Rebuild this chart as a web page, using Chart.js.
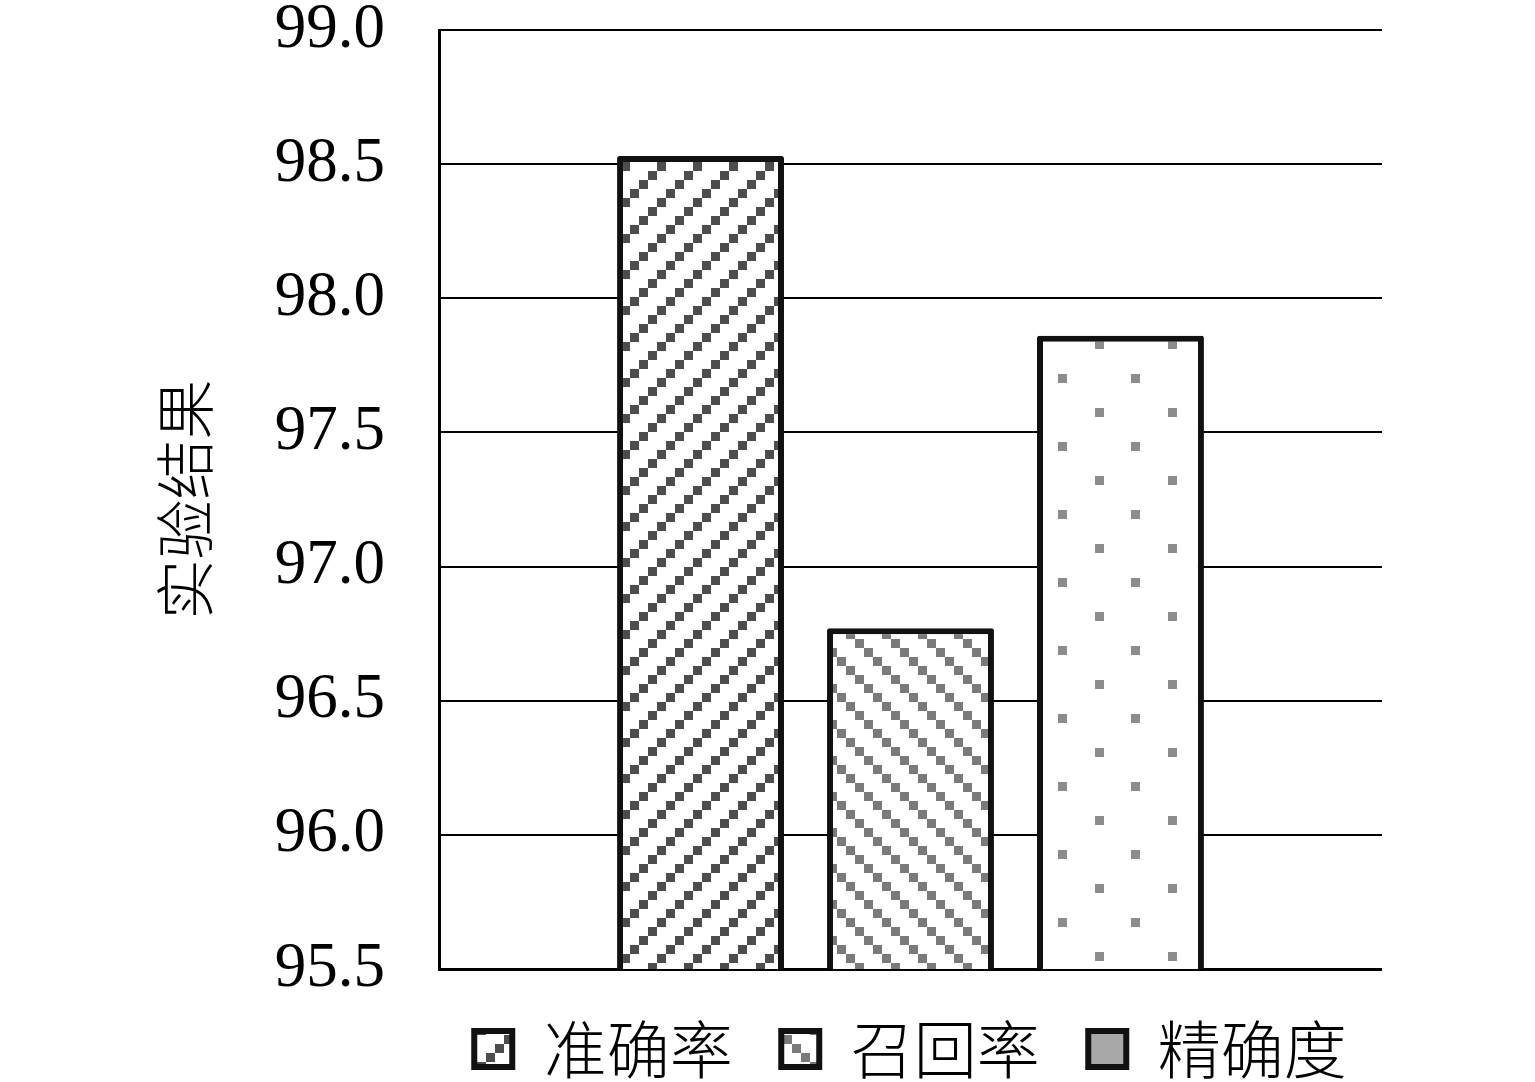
<!DOCTYPE html>
<html><head><meta charset="utf-8">
<script src="https://cdn.jsdelivr.net/npm/chart.js@4.4.0/dist/chart.umd.min.js"></script>
<style>html,body{margin:0;padding:0;background:#fff;}</style>
</head><body>
<canvas id="c" width="1535" height="1082" style="display:block;width:1535px;height:1082px"></canvas>
<script>
const categories = [''];
const seriesNames = ['准确率', '召回率', '精确度'];
const seriesValues = [98.53, 96.77, 97.86];
const yTickLabels = ['95.5', '96.0', '96.5', '97.0', '97.5', '98.0', '98.5', '99.0'];
const yMin = 95.5, yMax = 99.0, yStep = 0.5;
const yTitle = '实验结果';

const canvas = document.getElementById('c');
const ctx = canvas.getContext('2d');

function makePattern(w, h, color, squares) {
  const c = document.createElement('canvas');
  c.width = w; c.height = h;
  const x = c.getContext('2d');
  x.fillStyle = '#fff'; x.fillRect(0, 0, w, h);
  x.fillStyle = color;
  squares.forEach(([a, b, s]) => x.fillRect(a, b, s, s));
  return ctx.createPattern(c, 'repeat');
}
const pat1 = makePattern(36, 36, '#4d4d4d', [[27,0,9],[18,9,9],[9,18,9],[0,27,9]]);
const pat2 = makePattern(36, 36, '#7a7a7a', [[0,0,9],[9,9,9],[18,18,9],[27,27,9]]);
const pat3 = makePattern(73, 68, '#8c8c8c', [[0,0,9],[36,34,9]]);
const patterns = [pat1, pat2, pat3];
const legendSolid = [null, null, '#a8a8a8'];

const datasets = seriesNames.map((name, i) => ({
  label: name,
  data: [seriesValues[i]],
  backgroundColor: patterns[i],
  borderColor: '#111',
  borderWidth: 6,
  borderSkipped: false,
  borderRadius: 2,
  categoryPercentage: 0.668,
  barPercentage: 0.795
}));

// keep all legend items on one row, centred under the plot area
const oneRowLegend = {
  id: 'oneRowLegend',
  beforeLayout(chart) {
    const lg = chart.legend;
    if (!lg || lg._oneRow) return;
    lg._oneRow = true;
    const origFit = lg.fit;
    lg.fit = function () {
      const m = this.maxWidth;
      this.maxWidth = 5000;
      origFit.call(this);
      this.maxWidth = m;
      this.width = m;
    };
    const origDraw = lg.draw;
    lg.draw = function () {
      const l = this.left, r = this.right;
      this.left = l - 300; this.right = r + 300;
      origDraw.call(this);
      this.left = l; this.right = r;
    };
  }
};

new Chart(ctx, {
  type: 'bar',
  data: { labels: categories, datasets },
  plugins: [oneRowLegend],
  options: {
    responsive: false,
    animation: false,
    devicePixelRatio: 1,
    layout: { padding: { left: 0, top: 30, right: 153, bottom: 0 } },
    scales: {
      x: { display: false },
      y: {
        min: yMin, max: yMax,
        afterFit(s) { s.width = 439; },
        ticks: {
          stepSize: yStep,
          padding: 0,
          color: '#000',
          font: { family: '"Liberation Serif", "DejaVu Serif", serif', size: 63, lineHeight: 0.95 },
          callback: (v, i) => yTickLabels[i]
        },
        grid: {
          drawTicks: true,
          tickLength: 54,
          tickColor: 'rgba(0,0,0,0)',
          color: '#000',
          lineWidth: (c) => (c.index === 0 ? 3 : 2)
        },
        border: { display: true, color: '#000', width: 3 },
        title: {
          display: true,
          text: yTitle,
          color: '#000',
          font: { family: '"Noto Sans CJK SC", sans-serif', size: 60, weight: '300', lineHeight: 1 },
          padding: { top: 155, bottom: 0 }
        }
      }
    },
    plugins: {
      tooltip: { enabled: false },
      legend: {
        position: 'bottom',
        fullSize: false,
        maxHeight: 113,
        labels: {
          color: '#000',
          boxWidth: 38,
          boxHeight: 36,
          padding: 48.5,
          font: { family: '"Noto Sans CJK SC", sans-serif', size: 63, weight: '300' },
          generateLabels(chart) {
            const items = Chart.defaults.plugins.legend.labels.generateLabels(chart);
            items.forEach((it, i) => {
              if (legendSolid[i]) it.fillStyle = legendSolid[i];
              it.strokeStyle = '#111';
              it.lineWidth = 6;
            });
            return items;
          }
        }
      }
    }
  }
});
</script>
</body></html>
